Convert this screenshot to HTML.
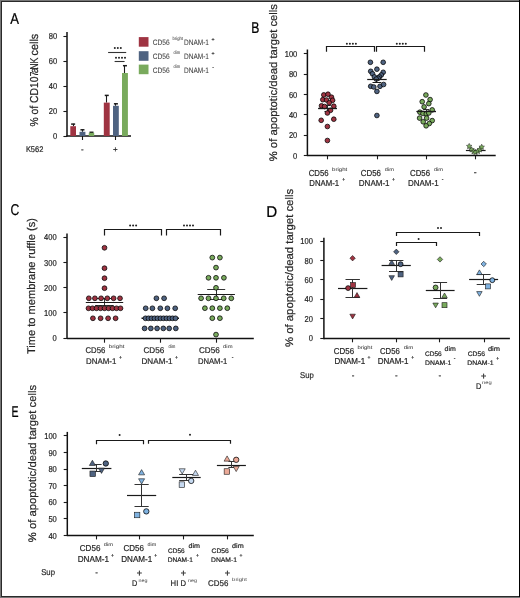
<!DOCTYPE html>
<html><head><meta charset="utf-8"><style>
html,body{margin:0;padding:0;background:#fff;}
body{width:520px;height:598px;overflow:hidden;}
svg{display:block;will-change:transform;text-rendering:geometricPrecision;font-family:"Liberation Sans",sans-serif;}
</style></head><body>
<svg width="520" height="598" viewBox="0 0 520 598">
<rect x="0" y="0" width="520" height="598" fill="#777"/>
<rect x="1" y="1" width="519" height="596" fill="#2a2a2a"/>
<rect x="2" y="2" width="517" height="594" fill="#fff"/>
<rect x="519" y="0" width="1" height="597" fill="#000"/>
<text x="10.37" y="23.6" font-size="15.7" fill="#000" stroke="#000" stroke-width="0.22" text-anchor="start" textLength="8.75" lengthAdjust="spacingAndGlyphs">A</text>
<text transform="translate(38.2,126.6) rotate(-90)" x="0" y="0" font-size="11.5" fill="#262626" stroke="#262626" stroke-width="0.2" textLength="50.2" lengthAdjust="spacingAndGlyphs">% of CD10</text>
<text transform="translate(38.2,76.6) rotate(-90)" x="0" y="0" font-size="11.5" fill="#262626" stroke="#262626" stroke-width="0.2" textLength="5" lengthAdjust="spacingAndGlyphs">7</text>
<text transform="translate(38.2,73.2) rotate(-90)" x="0" y="0" font-size="11.5" fill="#262626" stroke="#262626" stroke-width="0.2" textLength="5.6" lengthAdjust="spacingAndGlyphs">a</text>
<text transform="translate(38.2,69.8) rotate(-90)" x="0" y="0" font-size="11.5" fill="#262626" stroke="#262626" stroke-width="0.2" textLength="12.2" lengthAdjust="spacingAndGlyphs">NK</text>
<text transform="translate(38.2,55.4) rotate(-90)" x="0" y="0" font-size="11.5" fill="#262626" stroke="#262626" stroke-width="0.2" textLength="21.7" lengthAdjust="spacingAndGlyphs">cells</text>
<line x1="67" y1="32" x2="67" y2="136.6" stroke="#111" stroke-width="1.5"/>
<line x1="63.4" y1="136.5" x2="67" y2="136.5" stroke="#1a1a1a" stroke-width="1.1"/>
<text x="57.1" y="139.1" font-size="8.6" fill="#262626" stroke="#262626" stroke-width="0.2" text-anchor="end" textLength="4.21" lengthAdjust="spacingAndGlyphs">0</text>
<line x1="63.4" y1="111.5" x2="67" y2="111.5" stroke="#1a1a1a" stroke-width="1.1"/>
<text x="57.1" y="114.1" font-size="8.6" fill="#262626" stroke="#262626" stroke-width="0.2" text-anchor="end" textLength="8.42" lengthAdjust="spacingAndGlyphs">20</text>
<line x1="63.4" y1="86.5" x2="67" y2="86.5" stroke="#1a1a1a" stroke-width="1.1"/>
<text x="57.1" y="89.1" font-size="8.6" fill="#262626" stroke="#262626" stroke-width="0.2" text-anchor="end" textLength="8.42" lengthAdjust="spacingAndGlyphs">40</text>
<line x1="63.4" y1="61.5" x2="67" y2="61.5" stroke="#1a1a1a" stroke-width="1.1"/>
<text x="57.1" y="64.1" font-size="8.6" fill="#262626" stroke="#262626" stroke-width="0.2" text-anchor="end" textLength="8.42" lengthAdjust="spacingAndGlyphs">60</text>
<line x1="63.4" y1="36.5" x2="67" y2="36.5" stroke="#1a1a1a" stroke-width="1.1"/>
<text x="57.1" y="39.1" font-size="8.6" fill="#262626" stroke="#262626" stroke-width="0.2" text-anchor="end" textLength="8.42" lengthAdjust="spacingAndGlyphs">80</text>
<line x1="66.5" y1="136" x2="131" y2="136" stroke="#111" stroke-width="1.5"/>
<line x1="82.5" y1="136" x2="82.5" y2="140" stroke="#1a1a1a" stroke-width="1.1"/>
<line x1="115.5" y1="136" x2="115.5" y2="140" stroke="#1a1a1a" stroke-width="1.1"/>
<text x="82.4" y="152.2" font-size="8" fill="#262626" stroke="#262626" stroke-width="0.2" text-anchor="middle">-</text>
<text x="115.3" y="152.4" font-size="8" fill="#262626" stroke="#262626" stroke-width="0.2" text-anchor="middle">+</text>
<text x="25.9" y="152.2" font-size="8.2" fill="#262626" stroke="#262626" stroke-width="0.2" text-anchor="start" textLength="17.4" lengthAdjust="spacingAndGlyphs">K562</text>
<line x1="73.5" y1="126.2" x2="73.5" y2="123.8" stroke="#1a1a1a" stroke-width="1.1"/>
<line x1="71.15" y1="124.1" x2="75.15" y2="124.1" stroke="#1a1a1a" stroke-width="1.5"/>
<rect x="70.3" y="126.2" width="5.7" height="9.8" fill="#9f3442"/>
<line x1="82.5" y1="131.8" x2="82.5" y2="129.5" stroke="#1a1a1a" stroke-width="1.1"/>
<line x1="80.45" y1="129.8" x2="84.45" y2="129.8" stroke="#1a1a1a" stroke-width="1.5"/>
<rect x="79.5" y="131.8" width="5.9" height="4.2" fill="#4f6381"/>
<line x1="91.5" y1="132.8" x2="91.5" y2="132" stroke="#1a1a1a" stroke-width="1.1"/>
<line x1="89.5" y1="132.3" x2="93.5" y2="132.3" stroke="#1a1a1a" stroke-width="1.5"/>
<rect x="88.8" y="132.8" width="5.4" height="3.2" fill="#79aa5d"/>
<line x1="106.5" y1="102.6" x2="106.5" y2="95.1" stroke="#1a1a1a" stroke-width="1.1"/>
<line x1="104.75" y1="95.4" x2="108.75" y2="95.4" stroke="#1a1a1a" stroke-width="1.5"/>
<rect x="103.8" y="102.6" width="5.9" height="33.4" fill="#9f3442"/>
<line x1="115.5" y1="105.8" x2="115.5" y2="103.5" stroke="#1a1a1a" stroke-width="1.1"/>
<line x1="113.9" y1="103.8" x2="117.9" y2="103.8" stroke="#1a1a1a" stroke-width="1.5"/>
<rect x="113" y="105.8" width="5.8" height="30.2" fill="#4f6381"/>
<line x1="124.5" y1="73" x2="124.5" y2="65.4" stroke="#1a1a1a" stroke-width="1.1"/>
<line x1="122.95" y1="65.7" x2="126.95" y2="65.7" stroke="#1a1a1a" stroke-width="1.5"/>
<rect x="122" y="73" width="5.9" height="63" fill="#79aa5d"/>
<line x1="108.1" y1="52.5" x2="126.2" y2="52.5" stroke="#333" stroke-width="1.1"/>
<circle cx="114.8" cy="47.9" r="1" fill="#222"/>
<circle cx="117.8" cy="47.9" r="1" fill="#222"/>
<circle cx="120.8" cy="47.9" r="1" fill="#222"/>
<line x1="114.6" y1="61.5" x2="124.6" y2="61.5" stroke="#333" stroke-width="1.1"/>
<circle cx="116" cy="57.7" r="1" fill="#222"/>
<circle cx="119" cy="57.7" r="1" fill="#222"/>
<circle cx="122" cy="57.7" r="1" fill="#222"/>
<circle cx="125" cy="57.7" r="1" fill="#222"/>
<rect x="138.8" y="37.1" width="9.7" height="9.6" fill="#9f3442"/>
<rect x="138.8" y="51.2" width="9.7" height="9.6" fill="#4f6381"/>
<rect x="138.8" y="64.6" width="9.7" height="9.6" fill="#79aa5d"/>
<text x="152.7" y="45.4" font-size="7.8" fill="#3a3a3a" stroke="#3a3a3a" stroke-width="0.05" text-anchor="start" textLength="16.9" lengthAdjust="spacingAndGlyphs">CD56</text>
<text x="172.5" y="40.4" font-size="4.8" fill="#444" stroke="#444" stroke-width="0.05" text-anchor="start" textLength="10.5" lengthAdjust="spacingAndGlyphs">bright</text>
<text x="184" y="45.4" font-size="7.8" fill="#3a3a3a" stroke="#3a3a3a" stroke-width="0.05" text-anchor="start" textLength="25" lengthAdjust="spacingAndGlyphs">DNAM-1</text>
<text x="213" y="41.2" font-size="5.2" fill="#333" stroke="#333" stroke-width="0.2" text-anchor="middle">+</text>
<text x="152.7" y="59.2" font-size="7.8" fill="#3a3a3a" stroke="#3a3a3a" stroke-width="0.05" text-anchor="start" textLength="16.9" lengthAdjust="spacingAndGlyphs">CD56</text>
<text x="173.5" y="54.2" font-size="4.8" fill="#444" stroke="#444" stroke-width="0.05" text-anchor="start" textLength="6.5" lengthAdjust="spacingAndGlyphs">dim</text>
<text x="184" y="59.2" font-size="7.8" fill="#3a3a3a" stroke="#3a3a3a" stroke-width="0.05" text-anchor="start" textLength="25" lengthAdjust="spacingAndGlyphs">DNAM-1</text>
<text x="213" y="55" font-size="5.2" fill="#333" stroke="#333" stroke-width="0.2" text-anchor="middle">+</text>
<text x="152.7" y="73" font-size="7.8" fill="#3a3a3a" stroke="#3a3a3a" stroke-width="0.05" text-anchor="start" textLength="16.9" lengthAdjust="spacingAndGlyphs">CD56</text>
<text x="173.5" y="68" font-size="4.8" fill="#444" stroke="#444" stroke-width="0.05" text-anchor="start" textLength="6.5" lengthAdjust="spacingAndGlyphs">dim</text>
<text x="184" y="73" font-size="7.8" fill="#3a3a3a" stroke="#3a3a3a" stroke-width="0.05" text-anchor="start" textLength="25" lengthAdjust="spacingAndGlyphs">DNAM-1</text>
<text x="213" y="68.8" font-size="5.2" fill="#333" stroke="#333" stroke-width="0.2" text-anchor="middle">-</text>
<text x="251.2" y="32.8" font-size="15.7" fill="#000" stroke="#000" stroke-width="0.22" text-anchor="start" textLength="8.11" lengthAdjust="spacingAndGlyphs">B</text>
<text transform="translate(276.6,161.3) rotate(-90)" x="0" y="0" font-size="11" fill="#262626" stroke="#262626" stroke-width="0.2" textLength="157.3" lengthAdjust="spacingAndGlyphs">% of apoptotic/dead target cells</text>
<line x1="307.4" y1="49.5" x2="307.4" y2="156.1" stroke="#111" stroke-width="1.5"/>
<line x1="303.8" y1="155.5" x2="307.4" y2="155.5" stroke="#1a1a1a" stroke-width="1.1"/>
<text x="297.3" y="158.5" font-size="8.6" fill="#262626" stroke="#262626" stroke-width="0.2" text-anchor="end" textLength="4.21" lengthAdjust="spacingAndGlyphs">0</text>
<line x1="303.8" y1="135.5" x2="307.4" y2="135.5" stroke="#1a1a1a" stroke-width="1.1"/>
<text x="297.3" y="138.2" font-size="8.6" fill="#262626" stroke="#262626" stroke-width="0.2" text-anchor="end" textLength="8.42" lengthAdjust="spacingAndGlyphs">20</text>
<line x1="303.8" y1="114.5" x2="307.4" y2="114.5" stroke="#1a1a1a" stroke-width="1.1"/>
<text x="297.3" y="117.9" font-size="8.6" fill="#262626" stroke="#262626" stroke-width="0.2" text-anchor="end" textLength="8.42" lengthAdjust="spacingAndGlyphs">40</text>
<line x1="303.8" y1="94.5" x2="307.4" y2="94.5" stroke="#1a1a1a" stroke-width="1.1"/>
<text x="297.3" y="97.6" font-size="8.6" fill="#262626" stroke="#262626" stroke-width="0.2" text-anchor="end" textLength="8.42" lengthAdjust="spacingAndGlyphs">60</text>
<line x1="303.8" y1="74.5" x2="307.4" y2="74.5" stroke="#1a1a1a" stroke-width="1.1"/>
<text x="297.3" y="77.3" font-size="8.6" fill="#262626" stroke="#262626" stroke-width="0.2" text-anchor="end" textLength="8.42" lengthAdjust="spacingAndGlyphs">80</text>
<line x1="303.8" y1="53.5" x2="307.4" y2="53.5" stroke="#1a1a1a" stroke-width="1.1"/>
<text x="297.3" y="57" font-size="8.6" fill="#262626" stroke="#262626" stroke-width="0.2" text-anchor="end" textLength="12.62" lengthAdjust="spacingAndGlyphs">100</text>
<line x1="307.2" y1="155.5" x2="495.7" y2="155.5" stroke="#111" stroke-width="1.5"/>
<line x1="327.5" y1="155.5" x2="327.5" y2="159.3" stroke="#1a1a1a" stroke-width="1.1"/>
<line x1="377.5" y1="155.5" x2="377.5" y2="159.3" stroke="#1a1a1a" stroke-width="1.1"/>
<line x1="426.5" y1="155.5" x2="426.5" y2="159.3" stroke="#1a1a1a" stroke-width="1.1"/>
<line x1="475.5" y1="155.5" x2="475.5" y2="159.3" stroke="#1a1a1a" stroke-width="1.1"/>
<path d="M326.5,51.7 V46.5 H374.5 V51.7" fill="none" stroke="#1a1a1a" stroke-width="1.2"/>
<circle cx="346.9" cy="43.7" r="1" fill="#222"/>
<circle cx="349.9" cy="43.7" r="1" fill="#222"/>
<circle cx="352.9" cy="43.7" r="1" fill="#222"/>
<circle cx="355.9" cy="43.7" r="1" fill="#222"/>
<path d="M376.5,51.7 V46.5 H424.5 V51.7" fill="none" stroke="#1a1a1a" stroke-width="1.2"/>
<circle cx="396.8" cy="43.7" r="1" fill="#222"/>
<circle cx="399.8" cy="43.7" r="1" fill="#222"/>
<circle cx="402.8" cy="43.7" r="1" fill="#222"/>
<circle cx="405.8" cy="43.7" r="1" fill="#222"/>
<line x1="318.3" y1="108.5" x2="336.9" y2="108.5" stroke="#1a1a1a" stroke-width="1.2"/>
<line x1="327.5" y1="105.5" x2="327.5" y2="111.5" stroke="#333" stroke-width="1"/>
<line x1="324.4" y1="105.5" x2="330.8" y2="105.5" stroke="#333" stroke-width="1"/>
<line x1="324.4" y1="111.5" x2="330.8" y2="111.5" stroke="#333" stroke-width="1"/>
<circle cx="323.8" cy="94.9" r="2.35" fill="#9f3442" stroke="#000" stroke-width="0.75"/>
<circle cx="328" cy="94.2" r="2.35" fill="#9f3442" stroke="#000" stroke-width="0.75"/>
<circle cx="331.5" cy="97.2" r="2.35" fill="#9f3442" stroke="#000" stroke-width="0.75"/>
<circle cx="322.8" cy="99.7" r="2.35" fill="#9f3442" stroke="#000" stroke-width="0.75"/>
<circle cx="326.5" cy="100" r="2.35" fill="#9f3442" stroke="#000" stroke-width="0.75"/>
<circle cx="332.6" cy="100.3" r="2.35" fill="#9f3442" stroke="#000" stroke-width="0.75"/>
<circle cx="329.2" cy="102.8" r="2.35" fill="#9f3442" stroke="#000" stroke-width="0.75"/>
<circle cx="321.5" cy="105.8" r="2.35" fill="#9f3442" stroke="#000" stroke-width="0.75"/>
<circle cx="324.6" cy="106.5" r="2.35" fill="#9f3442" stroke="#000" stroke-width="0.75"/>
<circle cx="333.8" cy="106.2" r="2.35" fill="#9f3442" stroke="#000" stroke-width="0.75"/>
<circle cx="330.5" cy="110.3" r="2.35" fill="#9f3442" stroke="#000" stroke-width="0.75"/>
<circle cx="327.4" cy="113" r="2.35" fill="#9f3442" stroke="#000" stroke-width="0.75"/>
<circle cx="321.2" cy="120.3" r="2.35" fill="#9f3442" stroke="#000" stroke-width="0.75"/>
<circle cx="333.8" cy="119.2" r="2.35" fill="#9f3442" stroke="#000" stroke-width="0.75"/>
<circle cx="327.4" cy="126.5" r="2.35" fill="#9f3442" stroke="#000" stroke-width="0.75"/>
<circle cx="327.4" cy="140.5" r="2.35" fill="#9f3442" stroke="#000" stroke-width="0.75"/>
<line x1="318.2" y1="108.5" x2="336.9" y2="108.5" stroke="#1a1a1a" stroke-width="1.2"/>
<circle cx="370.4" cy="62.3" r="2.35" fill="#4f6381" stroke="#000" stroke-width="0.75"/>
<circle cx="383.2" cy="62.3" r="2.35" fill="#4f6381" stroke="#000" stroke-width="0.75"/>
<circle cx="376.9" cy="69.2" r="2.35" fill="#4f6381" stroke="#000" stroke-width="0.75"/>
<circle cx="370.7" cy="71.3" r="2.35" fill="#4f6381" stroke="#000" stroke-width="0.75"/>
<circle cx="383.2" cy="72.3" r="2.35" fill="#4f6381" stroke="#000" stroke-width="0.75"/>
<circle cx="372.5" cy="73.8" r="2.35" fill="#4f6381" stroke="#000" stroke-width="0.75"/>
<circle cx="381.3" cy="75" r="2.35" fill="#4f6381" stroke="#000" stroke-width="0.75"/>
<circle cx="374.4" cy="76.9" r="2.35" fill="#4f6381" stroke="#000" stroke-width="0.75"/>
<circle cx="379.4" cy="76.9" r="2.35" fill="#4f6381" stroke="#000" stroke-width="0.75"/>
<circle cx="378.2" cy="78.2" r="2.35" fill="#4f6381" stroke="#000" stroke-width="0.75"/>
<circle cx="376.3" cy="79.1" r="2.35" fill="#4f6381" stroke="#000" stroke-width="0.75"/>
<circle cx="370.7" cy="86.3" r="2.35" fill="#4f6381" stroke="#000" stroke-width="0.75"/>
<circle cx="373.8" cy="87" r="2.35" fill="#4f6381" stroke="#000" stroke-width="0.75"/>
<circle cx="380" cy="86.3" r="2.35" fill="#4f6381" stroke="#000" stroke-width="0.75"/>
<circle cx="383.6" cy="84.5" r="2.35" fill="#4f6381" stroke="#000" stroke-width="0.75"/>
<circle cx="376.9" cy="91.4" r="2.35" fill="#4f6381" stroke="#000" stroke-width="0.75"/>
<circle cx="376.9" cy="115.5" r="2.35" fill="#4f6381" stroke="#000" stroke-width="0.75"/>
<line x1="367.2" y1="79.5" x2="386.7" y2="79.5" stroke="#1a1a1a" stroke-width="1.2"/>
<line x1="372.5" y1="82.5" x2="381.3" y2="82.5" stroke="#1a1a1a" stroke-width="1"/>
<line x1="376.5" y1="79.7" x2="376.5" y2="82.3" stroke="#1a1a1a" stroke-width="1"/>
<line x1="416.5" y1="111.5" x2="435.9" y2="111.5" stroke="#1a1a1a" stroke-width="1.2"/>
<line x1="426.5" y1="109.6" x2="426.5" y2="114" stroke="#333" stroke-width="1"/>
<line x1="423.2" y1="109.5" x2="429.2" y2="109.5" stroke="#333" stroke-width="1"/>
<line x1="423.2" y1="114.5" x2="429.2" y2="114.5" stroke="#333" stroke-width="1"/>
<circle cx="425.9" cy="95" r="2.35" fill="#79aa5d" stroke="#000" stroke-width="0.75"/>
<circle cx="430.1" cy="99.6" r="2.35" fill="#79aa5d" stroke="#000" stroke-width="0.75"/>
<circle cx="422.2" cy="101.7" r="2.35" fill="#79aa5d" stroke="#000" stroke-width="0.75"/>
<circle cx="428.8" cy="103.6" r="2.35" fill="#79aa5d" stroke="#000" stroke-width="0.75"/>
<circle cx="424.1" cy="106.9" r="2.35" fill="#79aa5d" stroke="#000" stroke-width="0.75"/>
<circle cx="432.2" cy="109.9" r="2.35" fill="#79aa5d" stroke="#000" stroke-width="0.75"/>
<circle cx="419.9" cy="112.2" r="2.35" fill="#79aa5d" stroke="#000" stroke-width="0.75"/>
<circle cx="423" cy="113.5" r="2.35" fill="#79aa5d" stroke="#000" stroke-width="0.75"/>
<circle cx="426.3" cy="113.9" r="2.35" fill="#79aa5d" stroke="#000" stroke-width="0.75"/>
<circle cx="428.8" cy="113" r="2.35" fill="#79aa5d" stroke="#000" stroke-width="0.75"/>
<circle cx="419.6" cy="118.1" r="2.35" fill="#79aa5d" stroke="#000" stroke-width="0.75"/>
<circle cx="426.6" cy="118.1" r="2.35" fill="#79aa5d" stroke="#000" stroke-width="0.75"/>
<circle cx="432.2" cy="120.6" r="2.35" fill="#79aa5d" stroke="#000" stroke-width="0.75"/>
<circle cx="423.2" cy="121.8" r="2.35" fill="#79aa5d" stroke="#000" stroke-width="0.75"/>
<circle cx="429.3" cy="123.5" r="2.35" fill="#79aa5d" stroke="#000" stroke-width="0.75"/>
<circle cx="426.1" cy="125.8" r="2.35" fill="#79aa5d" stroke="#000" stroke-width="0.75"/>
<line x1="416.7" y1="111.5" x2="436" y2="111.5" stroke="#1a1a1a" stroke-width="1.2"/>
<line x1="465.9" y1="150.5" x2="485.6" y2="150.5" stroke="#1a1a1a" stroke-width="1.2"/>
<polygon points="469.2,143.4 470.05,145.13 471.96,145.4 470.58,146.75 470.9,148.65 469.2,147.75 467.5,148.65 467.82,146.75 466.44,145.4 468.35,145.13" fill="#79aa5d" stroke="#1a1a1a" stroke-width="0.5"/>
<polygon points="471.6,146.8 472.45,148.53 474.36,148.8 472.98,150.15 473.3,152.05 471.6,151.15 469.9,152.05 470.22,150.15 468.84,148.8 470.75,148.53" fill="#79aa5d" stroke="#1a1a1a" stroke-width="0.5"/>
<polygon points="473.6,148.7 474.45,150.43 476.36,150.7 474.98,152.05 475.3,153.95 473.6,153.05 471.9,153.95 472.22,152.05 470.84,150.7 472.75,150.43" fill="#79aa5d" stroke="#1a1a1a" stroke-width="0.5"/>
<polygon points="475.5,149.4 476.35,151.13 478.26,151.4 476.88,152.75 477.2,154.65 475.5,153.75 473.8,154.65 474.12,152.75 472.74,151.4 474.65,151.13" fill="#79aa5d" stroke="#1a1a1a" stroke-width="0.5"/>
<polygon points="477.9,148.4 478.75,150.13 480.66,150.4 479.28,151.75 479.6,153.65 477.9,152.75 476.2,153.65 476.52,151.75 475.14,150.4 477.05,150.13" fill="#79aa5d" stroke="#1a1a1a" stroke-width="0.5"/>
<polygon points="479.8,146.8 480.65,148.53 482.56,148.8 481.18,150.15 481.5,152.05 479.8,151.15 478.1,152.05 478.42,150.15 477.04,148.8 478.95,148.53" fill="#79aa5d" stroke="#1a1a1a" stroke-width="0.5"/>
<polygon points="481.7,144.2 482.55,145.93 484.46,146.2 483.08,147.55 483.4,149.45 481.7,148.55 480,149.45 480.32,147.55 478.94,146.2 480.85,145.93" fill="#79aa5d" stroke="#1a1a1a" stroke-width="0.5"/>
<text x="308.7" y="175.6" font-size="8.7" fill="#262626" stroke="#262626" stroke-width="0.2" text-anchor="start" textLength="19.9" lengthAdjust="spacingAndGlyphs">CD56</text>
<text x="332.1" y="170.6" font-size="4.9" fill="#3a3a3a" stroke="#3a3a3a" stroke-width="0.05" text-anchor="start" textLength="15.2" lengthAdjust="spacingAndGlyphs">bright</text>
<text x="309.3" y="186.2" font-size="8.7" fill="#262626" stroke="#262626" stroke-width="0.2" text-anchor="start" textLength="29.8" lengthAdjust="spacingAndGlyphs">DNAM-1</text>
<text x="343.8" y="181.2" font-size="5" fill="#262626" stroke="#262626" stroke-width="0.2" text-anchor="middle">+</text>
<text x="360.8" y="175.6" font-size="8.7" fill="#262626" stroke="#262626" stroke-width="0.2" text-anchor="start" textLength="20.2" lengthAdjust="spacingAndGlyphs">CD56</text>
<text x="384.8" y="170.6" font-size="4.9" fill="#3a3a3a" stroke="#3a3a3a" stroke-width="0.05" text-anchor="start" textLength="9" lengthAdjust="spacingAndGlyphs">dim</text>
<text x="358.8" y="186.2" font-size="8.7" fill="#262626" stroke="#262626" stroke-width="0.2" text-anchor="start" textLength="30.8" lengthAdjust="spacingAndGlyphs">DNAM-1</text>
<text x="393.4" y="181.2" font-size="5" fill="#262626" stroke="#262626" stroke-width="0.2" text-anchor="middle">+</text>
<text x="410" y="175.6" font-size="8.7" fill="#262626" stroke="#262626" stroke-width="0.2" text-anchor="start" textLength="20" lengthAdjust="spacingAndGlyphs">CD56</text>
<text x="434" y="170.6" font-size="4.9" fill="#3a3a3a" stroke="#3a3a3a" stroke-width="0.05" text-anchor="start" textLength="9" lengthAdjust="spacingAndGlyphs">dim</text>
<text x="408" y="186.2" font-size="8.7" fill="#262626" stroke="#262626" stroke-width="0.2" text-anchor="start" textLength="30.6" lengthAdjust="spacingAndGlyphs">DNAM-1</text>
<text x="442.5" y="181.2" font-size="5" fill="#262626" stroke="#262626" stroke-width="0.2" text-anchor="middle">-</text>
<text x="475.2" y="175.3" font-size="8.7" fill="#262626" stroke="#262626" stroke-width="0.2" text-anchor="middle">-</text>
<text x="10.58" y="214.5" font-size="15.7" fill="#000" stroke="#000" stroke-width="0.22" text-anchor="start" textLength="8.78" lengthAdjust="spacingAndGlyphs">C</text>
<text transform="translate(35.2,354) rotate(-90)" x="0" y="0" font-size="11.2" fill="#262626" stroke="#262626" stroke-width="0.2" textLength="135.9" lengthAdjust="spacingAndGlyphs">Time to membrane ruffle (s)</text>
<line x1="67" y1="233.4" x2="67" y2="339" stroke="#111" stroke-width="1.5"/>
<line x1="63.4" y1="338.5" x2="67" y2="338.5" stroke="#1a1a1a" stroke-width="1.1"/>
<text x="56.6" y="341.3" font-size="8.6" fill="#262626" stroke="#262626" stroke-width="0.2" text-anchor="end" textLength="4.21" lengthAdjust="spacingAndGlyphs">0</text>
<line x1="63.4" y1="312.5" x2="67" y2="312.5" stroke="#1a1a1a" stroke-width="1.1"/>
<text x="56.6" y="316.05" font-size="8.6" fill="#262626" stroke="#262626" stroke-width="0.2" text-anchor="end" textLength="12.62" lengthAdjust="spacingAndGlyphs">100</text>
<line x1="63.4" y1="287.5" x2="67" y2="287.5" stroke="#1a1a1a" stroke-width="1.1"/>
<text x="56.6" y="290.8" font-size="8.6" fill="#262626" stroke="#262626" stroke-width="0.2" text-anchor="end" textLength="12.62" lengthAdjust="spacingAndGlyphs">200</text>
<line x1="63.4" y1="262.5" x2="67" y2="262.5" stroke="#1a1a1a" stroke-width="1.1"/>
<text x="56.6" y="265.55" font-size="8.6" fill="#262626" stroke="#262626" stroke-width="0.2" text-anchor="end" textLength="12.62" lengthAdjust="spacingAndGlyphs">300</text>
<line x1="63.4" y1="237.5" x2="67" y2="237.5" stroke="#1a1a1a" stroke-width="1.1"/>
<text x="56.6" y="240.3" font-size="8.6" fill="#262626" stroke="#262626" stroke-width="0.2" text-anchor="end" textLength="12.62" lengthAdjust="spacingAndGlyphs">400</text>
<line x1="67" y1="338.4" x2="253.8" y2="338.4" stroke="#111" stroke-width="1.5"/>
<line x1="104.5" y1="338.5" x2="104.5" y2="342.7" stroke="#1a1a1a" stroke-width="1.1"/>
<line x1="160.5" y1="338.5" x2="160.5" y2="342.7" stroke="#1a1a1a" stroke-width="1.1"/>
<line x1="216.5" y1="338.5" x2="216.5" y2="342.7" stroke="#1a1a1a" stroke-width="1.1"/>
<path d="M104.5,235.6 V229.5 H161.5 V235.6" fill="none" stroke="#1a1a1a" stroke-width="1.2"/>
<circle cx="130.1" cy="225.5" r="1" fill="#222"/>
<circle cx="133.1" cy="225.5" r="1" fill="#222"/>
<circle cx="136.1" cy="225.5" r="1" fill="#222"/>
<path d="M166.5,235.6 V229.5 H220.5 V235.6" fill="none" stroke="#1a1a1a" stroke-width="1.2"/>
<circle cx="184" cy="225.5" r="1" fill="#222"/>
<circle cx="187" cy="225.5" r="1" fill="#222"/>
<circle cx="190" cy="225.5" r="1" fill="#222"/>
<circle cx="193" cy="225.5" r="1" fill="#222"/>
<line x1="85.8" y1="302.5" x2="123" y2="302.5" stroke="#1a1a1a" stroke-width="1.2"/>
<line x1="104.5" y1="298.6" x2="104.5" y2="305.6" stroke="#333" stroke-width="1"/>
<line x1="95.1" y1="298.5" x2="113.7" y2="298.5" stroke="#333" stroke-width="1"/>
<line x1="95.1" y1="305.5" x2="113.7" y2="305.5" stroke="#333" stroke-width="1"/>
<circle cx="104.5" cy="247.8" r="2.4" fill="#9f3442" stroke="#000" stroke-width="0.75"/>
<circle cx="104.5" cy="268.2" r="2.4" fill="#9f3442" stroke="#000" stroke-width="0.75"/>
<circle cx="104.5" cy="278.2" r="2.4" fill="#9f3442" stroke="#000" stroke-width="0.75"/>
<circle cx="104.5" cy="288.2" r="2.4" fill="#9f3442" stroke="#000" stroke-width="0.75"/>
<circle cx="88.8" cy="298.3" r="2.4" fill="#9f3442" stroke="#000" stroke-width="0.75"/>
<circle cx="94.9" cy="298.3" r="2.4" fill="#9f3442" stroke="#000" stroke-width="0.75"/>
<circle cx="101.1" cy="298.3" r="2.4" fill="#9f3442" stroke="#000" stroke-width="0.75"/>
<circle cx="107.3" cy="298.3" r="2.4" fill="#9f3442" stroke="#000" stroke-width="0.75"/>
<circle cx="113.6" cy="298.3" r="2.4" fill="#9f3442" stroke="#000" stroke-width="0.75"/>
<circle cx="120" cy="298.3" r="2.4" fill="#9f3442" stroke="#000" stroke-width="0.75"/>
<circle cx="88.5" cy="308.3" r="2.4" fill="#9f3442" stroke="#000" stroke-width="0.75"/>
<circle cx="92.5" cy="308.3" r="2.4" fill="#9f3442" stroke="#000" stroke-width="0.75"/>
<circle cx="96.5" cy="308.3" r="2.4" fill="#9f3442" stroke="#000" stroke-width="0.75"/>
<circle cx="100.5" cy="308.3" r="2.4" fill="#9f3442" stroke="#000" stroke-width="0.75"/>
<circle cx="104.5" cy="308.3" r="2.4" fill="#9f3442" stroke="#000" stroke-width="0.75"/>
<circle cx="108.5" cy="308.3" r="2.4" fill="#9f3442" stroke="#000" stroke-width="0.75"/>
<circle cx="112.5" cy="308.3" r="2.4" fill="#9f3442" stroke="#000" stroke-width="0.75"/>
<circle cx="116.5" cy="308.3" r="2.4" fill="#9f3442" stroke="#000" stroke-width="0.75"/>
<circle cx="120.5" cy="308.3" r="2.4" fill="#9f3442" stroke="#000" stroke-width="0.75"/>
<circle cx="92.9" cy="318.3" r="2.4" fill="#9f3442" stroke="#000" stroke-width="0.75"/>
<circle cx="100.6" cy="318.3" r="2.4" fill="#9f3442" stroke="#000" stroke-width="0.75"/>
<circle cx="108.1" cy="318.3" r="2.4" fill="#9f3442" stroke="#000" stroke-width="0.75"/>
<circle cx="115.6" cy="318.3" r="2.4" fill="#9f3442" stroke="#000" stroke-width="0.75"/>
<line x1="86" y1="302.5" x2="123.2" y2="302.5" stroke="#1a1a1a" stroke-width="1.2"/>
<line x1="141.5" y1="318.3" x2="179" y2="318.3" stroke="#1a1a1a" stroke-width="1.4"/>
<circle cx="156.4" cy="298.3" r="2.4" fill="#4f6381" stroke="#000" stroke-width="0.75"/>
<circle cx="164.1" cy="298.3" r="2.4" fill="#4f6381" stroke="#000" stroke-width="0.75"/>
<circle cx="145.7" cy="308.3" r="2.4" fill="#4f6381" stroke="#000" stroke-width="0.75"/>
<circle cx="152.4" cy="308.3" r="2.4" fill="#4f6381" stroke="#000" stroke-width="0.75"/>
<circle cx="160.3" cy="308.3" r="2.4" fill="#4f6381" stroke="#000" stroke-width="0.75"/>
<circle cx="167.4" cy="308.3" r="2.4" fill="#4f6381" stroke="#000" stroke-width="0.75"/>
<circle cx="175.2" cy="308.3" r="2.4" fill="#4f6381" stroke="#000" stroke-width="0.75"/>
<circle cx="145.5" cy="318.3" r="2.4" fill="#4f6381" stroke="#000" stroke-width="0.75"/>
<circle cx="148.5" cy="318.3" r="2.4" fill="#4f6381" stroke="#000" stroke-width="0.75"/>
<circle cx="151.5" cy="318.3" r="2.4" fill="#4f6381" stroke="#000" stroke-width="0.75"/>
<circle cx="154.5" cy="318.3" r="2.4" fill="#4f6381" stroke="#000" stroke-width="0.75"/>
<circle cx="157.5" cy="318.3" r="2.4" fill="#4f6381" stroke="#000" stroke-width="0.75"/>
<circle cx="160.5" cy="318.3" r="2.4" fill="#4f6381" stroke="#000" stroke-width="0.75"/>
<circle cx="163.5" cy="318.3" r="2.4" fill="#4f6381" stroke="#000" stroke-width="0.75"/>
<circle cx="166.5" cy="318.3" r="2.4" fill="#4f6381" stroke="#000" stroke-width="0.75"/>
<circle cx="169.5" cy="318.3" r="2.4" fill="#4f6381" stroke="#000" stroke-width="0.75"/>
<circle cx="172.5" cy="318.3" r="2.4" fill="#4f6381" stroke="#000" stroke-width="0.75"/>
<circle cx="175.5" cy="318.3" r="2.4" fill="#4f6381" stroke="#000" stroke-width="0.75"/>
<circle cx="144.6" cy="328.4" r="2.4" fill="#4f6381" stroke="#000" stroke-width="0.75"/>
<circle cx="150.8" cy="328.4" r="2.4" fill="#4f6381" stroke="#000" stroke-width="0.75"/>
<circle cx="157.1" cy="328.4" r="2.4" fill="#4f6381" stroke="#000" stroke-width="0.75"/>
<circle cx="163.3" cy="328.4" r="2.4" fill="#4f6381" stroke="#000" stroke-width="0.75"/>
<circle cx="169.2" cy="328.4" r="2.4" fill="#4f6381" stroke="#000" stroke-width="0.75"/>
<circle cx="175.8" cy="328.4" r="2.4" fill="#4f6381" stroke="#000" stroke-width="0.75"/>
<line x1="197.8" y1="294.5" x2="234.6" y2="294.5" stroke="#1a1a1a" stroke-width="1.2"/>
<line x1="216.5" y1="289.7" x2="216.5" y2="299.8" stroke="#333" stroke-width="1"/>
<line x1="207.2" y1="289.5" x2="225.2" y2="289.5" stroke="#333" stroke-width="1"/>
<line x1="207.2" y1="299.5" x2="225.2" y2="299.5" stroke="#333" stroke-width="1"/>
<circle cx="212.3" cy="257.6" r="2.4" fill="#79aa5d" stroke="#000" stroke-width="0.75"/>
<circle cx="219.9" cy="257.6" r="2.4" fill="#79aa5d" stroke="#000" stroke-width="0.75"/>
<circle cx="216" cy="267.6" r="2.4" fill="#79aa5d" stroke="#000" stroke-width="0.75"/>
<circle cx="208.5" cy="277.8" r="2.4" fill="#79aa5d" stroke="#000" stroke-width="0.75"/>
<circle cx="216" cy="277.8" r="2.4" fill="#79aa5d" stroke="#000" stroke-width="0.75"/>
<circle cx="223.9" cy="277.8" r="2.4" fill="#79aa5d" stroke="#000" stroke-width="0.75"/>
<circle cx="216" cy="287.8" r="2.4" fill="#79aa5d" stroke="#000" stroke-width="0.75"/>
<circle cx="201.1" cy="298.3" r="2.4" fill="#79aa5d" stroke="#000" stroke-width="0.75"/>
<circle cx="208.5" cy="298.3" r="2.4" fill="#79aa5d" stroke="#000" stroke-width="0.75"/>
<circle cx="216" cy="298.3" r="2.4" fill="#79aa5d" stroke="#000" stroke-width="0.75"/>
<circle cx="223.7" cy="298.3" r="2.4" fill="#79aa5d" stroke="#000" stroke-width="0.75"/>
<circle cx="231.3" cy="298.3" r="2.4" fill="#79aa5d" stroke="#000" stroke-width="0.75"/>
<circle cx="204.9" cy="308.2" r="2.4" fill="#79aa5d" stroke="#000" stroke-width="0.75"/>
<circle cx="212.3" cy="308.2" r="2.4" fill="#79aa5d" stroke="#000" stroke-width="0.75"/>
<circle cx="219.9" cy="308.2" r="2.4" fill="#79aa5d" stroke="#000" stroke-width="0.75"/>
<circle cx="227.3" cy="308.2" r="2.4" fill="#79aa5d" stroke="#000" stroke-width="0.75"/>
<circle cx="212.3" cy="318.2" r="2.4" fill="#79aa5d" stroke="#000" stroke-width="0.75"/>
<circle cx="219.9" cy="318.2" r="2.4" fill="#79aa5d" stroke="#000" stroke-width="0.75"/>
<circle cx="216" cy="334.6" r="2.4" fill="#79aa5d" stroke="#000" stroke-width="0.75"/>
<line x1="197.9" y1="294.5" x2="234.8" y2="294.5" stroke="#1a1a1a" stroke-width="1.2"/>
<text x="85.5" y="353.3" font-size="8.4" fill="#262626" stroke="#262626" stroke-width="0.2" text-anchor="start" textLength="19.9" lengthAdjust="spacingAndGlyphs">CD56</text>
<text x="108.8" y="348.3" font-size="4.9" fill="#3a3a3a" stroke="#3a3a3a" stroke-width="0.05" text-anchor="start" textLength="15.6" lengthAdjust="spacingAndGlyphs">bright</text>
<text x="86" y="363.7" font-size="8.4" fill="#262626" stroke="#262626" stroke-width="0.2" text-anchor="start" textLength="30.3" lengthAdjust="spacingAndGlyphs">DNAM-1</text>
<text x="120.4" y="358.7" font-size="5" fill="#262626" stroke="#262626" stroke-width="0.2" text-anchor="middle">+</text>
<text x="143.5" y="353.3" font-size="8.4" fill="#262626" stroke="#262626" stroke-width="0.2" text-anchor="start" textLength="20.8" lengthAdjust="spacingAndGlyphs">CD56</text>
<text x="168.5" y="348.3" font-size="4.9" fill="#3a3a3a" stroke="#3a3a3a" stroke-width="0.05" text-anchor="start" textLength="6.9" lengthAdjust="spacingAndGlyphs">dim</text>
<text x="141.5" y="363.7" font-size="8.4" fill="#262626" stroke="#262626" stroke-width="0.2" text-anchor="start" textLength="31.1" lengthAdjust="spacingAndGlyphs">DNAM-1</text>
<text x="176.5" y="358.7" font-size="5" fill="#262626" stroke="#262626" stroke-width="0.2" text-anchor="middle">+</text>
<text x="198.9" y="353.3" font-size="8.4" fill="#262626" stroke="#262626" stroke-width="0.2" text-anchor="start" textLength="20.8" lengthAdjust="spacingAndGlyphs">CD56</text>
<text x="223.1" y="348.3" font-size="4.9" fill="#3a3a3a" stroke="#3a3a3a" stroke-width="0.05" text-anchor="start" textLength="9.4" lengthAdjust="spacingAndGlyphs">dim</text>
<text x="197.9" y="363.7" font-size="8.4" fill="#262626" stroke="#262626" stroke-width="0.2" text-anchor="start" textLength="29.4" lengthAdjust="spacingAndGlyphs">DNAM-1</text>
<text x="232.6" y="358.7" font-size="5" fill="#262626" stroke="#262626" stroke-width="0.2" text-anchor="middle">-</text>
<text x="266.36" y="216.6" font-size="15.7" fill="#000" stroke="#000" stroke-width="0.22" text-anchor="start" textLength="10.98" lengthAdjust="spacingAndGlyphs">D</text>
<text transform="translate(292.6,347) rotate(-90)" x="0" y="0" font-size="11" fill="#262626" stroke="#262626" stroke-width="0.2" textLength="158.1" lengthAdjust="spacingAndGlyphs">% of apoptotic/dead target cells</text>
<line x1="323.9" y1="237.7" x2="323.9" y2="339.2" stroke="#111" stroke-width="1.5"/>
<line x1="320.3" y1="338.5" x2="323.9" y2="338.5" stroke="#1a1a1a" stroke-width="1.1"/>
<text x="312.9" y="341.3" font-size="8.6" fill="#262626" stroke="#262626" stroke-width="0.2" text-anchor="end" textLength="4.21" lengthAdjust="spacingAndGlyphs">0</text>
<line x1="320.3" y1="318.5" x2="323.9" y2="318.5" stroke="#1a1a1a" stroke-width="1.1"/>
<text x="312.9" y="321.88" font-size="8.6" fill="#262626" stroke="#262626" stroke-width="0.2" text-anchor="end" textLength="8.42" lengthAdjust="spacingAndGlyphs">20</text>
<line x1="320.3" y1="299.5" x2="323.9" y2="299.5" stroke="#1a1a1a" stroke-width="1.1"/>
<text x="312.9" y="302.46" font-size="8.6" fill="#262626" stroke="#262626" stroke-width="0.2" text-anchor="end" textLength="8.42" lengthAdjust="spacingAndGlyphs">40</text>
<line x1="320.3" y1="279.5" x2="323.9" y2="279.5" stroke="#1a1a1a" stroke-width="1.1"/>
<text x="312.9" y="283.04" font-size="8.6" fill="#262626" stroke="#262626" stroke-width="0.2" text-anchor="end" textLength="8.42" lengthAdjust="spacingAndGlyphs">60</text>
<line x1="320.3" y1="260.5" x2="323.9" y2="260.5" stroke="#1a1a1a" stroke-width="1.1"/>
<text x="312.9" y="263.62" font-size="8.6" fill="#262626" stroke="#262626" stroke-width="0.2" text-anchor="end" textLength="8.42" lengthAdjust="spacingAndGlyphs">80</text>
<line x1="320.3" y1="241.5" x2="323.9" y2="241.5" stroke="#1a1a1a" stroke-width="1.1"/>
<text x="312.9" y="244.2" font-size="8.6" fill="#262626" stroke="#262626" stroke-width="0.2" text-anchor="end" textLength="12.62" lengthAdjust="spacingAndGlyphs">100</text>
<line x1="323.7" y1="338.6" x2="509.9" y2="338.6" stroke="#111" stroke-width="1.5"/>
<line x1="352.5" y1="338.6" x2="352.5" y2="342.3" stroke="#1a1a1a" stroke-width="1.1"/>
<line x1="396.5" y1="338.6" x2="396.5" y2="342.3" stroke="#1a1a1a" stroke-width="1.1"/>
<line x1="439.5" y1="338.6" x2="439.5" y2="342.3" stroke="#1a1a1a" stroke-width="1.1"/>
<line x1="484.5" y1="338.6" x2="484.5" y2="342.3" stroke="#1a1a1a" stroke-width="1.1"/>
<path d="M396.5,236 V232.5 H479.5 V236" fill="none" stroke="#1a1a1a" stroke-width="1.2"/>
<circle cx="438" cy="227.9" r="1" fill="#222"/>
<circle cx="441" cy="227.9" r="1" fill="#222"/>
<path d="M396.5,246 V242.5 H436.5 V246" fill="none" stroke="#1a1a1a" stroke-width="1.2"/>
<circle cx="418.6" cy="239" r="1" fill="#222"/>
<line x1="338" y1="288.5" x2="367.4" y2="288.5" stroke="#1a1a1a" stroke-width="1.2"/>
<line x1="352.5" y1="279" x2="352.5" y2="297.9" stroke="#333" stroke-width="1"/>
<line x1="345.5" y1="279.5" x2="359.9" y2="279.5" stroke="#333" stroke-width="1"/>
<line x1="345.5" y1="297.5" x2="359.9" y2="297.5" stroke="#333" stroke-width="1"/>
<polygon points="352.6,255.5 355.3,258.2 352.6,260.9 349.9,258.2" fill="#9f3442" stroke="#1a1a1a" stroke-width="0.6"/>
<rect x="350.5" y="282.6" width="5" height="5" fill="#9f3442" stroke="#1a1a1a" stroke-width="0.6"/>
<circle cx="348.1" cy="288.1" r="2.45" fill="#9f3442" stroke="#000" stroke-width="0.75"/>
<polygon points="357,292.57 359.75,297.32 354.25,297.32" fill="#9f3442" stroke="#1a1a1a" stroke-width="0.6"/>
<polygon points="352.6,318.93 355.35,314.18 349.85,314.18" fill="#9f3442" stroke="#1a1a1a" stroke-width="0.6"/>
<line x1="381.6" y1="265.5" x2="410.8" y2="265.5" stroke="#1a1a1a" stroke-width="1.2"/>
<line x1="396.5" y1="260.8" x2="396.5" y2="271.2" stroke="#333" stroke-width="1"/>
<line x1="389" y1="260.5" x2="403.4" y2="260.5" stroke="#333" stroke-width="1"/>
<line x1="389" y1="271.5" x2="403.4" y2="271.5" stroke="#333" stroke-width="1"/>
<polygon points="396.3,249.1 399,251.8 396.3,254.5 393.6,251.8" fill="#4f6381" stroke="#1a1a1a" stroke-width="0.6"/>
<polygon points="391.7,259.88 394.45,264.62 388.95,264.62" fill="#4f6381" stroke="#1a1a1a" stroke-width="0.6"/>
<circle cx="400.6" cy="264.2" r="2.45" fill="#4f6381" stroke="#000" stroke-width="0.75"/>
<rect x="398.1" y="271.9" width="5" height="5" fill="#4f6381" stroke="#1a1a1a" stroke-width="0.6"/>
<polygon points="391.7,280.43 394.45,275.68 388.95,275.68" fill="#4f6381" stroke="#1a1a1a" stroke-width="0.6"/>
<line x1="425.8" y1="290.5" x2="454.6" y2="290.5" stroke="#1a1a1a" stroke-width="1.2"/>
<line x1="440.5" y1="282.1" x2="440.5" y2="298.8" stroke="#333" stroke-width="1"/>
<line x1="433.3" y1="282.5" x2="447.1" y2="282.5" stroke="#333" stroke-width="1"/>
<line x1="433.3" y1="298.5" x2="447.1" y2="298.5" stroke="#333" stroke-width="1"/>
<polygon points="440,256.7 442.7,259.4 440,262.1 437.3,259.4" fill="#79aa5d" stroke="#1a1a1a" stroke-width="0.6"/>
<circle cx="435.6" cy="287.5" r="2.45" fill="#79aa5d" stroke="#000" stroke-width="0.75"/>
<polygon points="444.5,292.98 447.25,297.73 441.75,297.73" fill="#79aa5d" stroke="#1a1a1a" stroke-width="0.6"/>
<polygon points="435.6,307.82 438.35,303.07 432.85,303.07" fill="#79aa5d" stroke="#1a1a1a" stroke-width="0.6"/>
<rect x="442" y="302.7" width="5" height="5" fill="#79aa5d" stroke="#1a1a1a" stroke-width="0.6"/>
<line x1="469.1" y1="279.5" x2="498.1" y2="279.5" stroke="#1a1a1a" stroke-width="1.2"/>
<line x1="483.5" y1="274.4" x2="483.5" y2="284.8" stroke="#333" stroke-width="1"/>
<line x1="476.7" y1="274.5" x2="490.5" y2="274.5" stroke="#333" stroke-width="1"/>
<line x1="476.7" y1="284.5" x2="490.5" y2="284.5" stroke="#333" stroke-width="1"/>
<polygon points="483.7,261.3 486.4,264 483.7,266.7 481,264" fill="#7fb2e0" stroke="#1a1a1a" stroke-width="0.6"/>
<polygon points="479.4,269.88 482.15,274.62 476.65,274.62" fill="#7fb2e0" stroke="#1a1a1a" stroke-width="0.6"/>
<circle cx="492.3" cy="280.2" r="2.45" fill="#7fb2e0" stroke="#000" stroke-width="0.75"/>
<rect x="485.5" y="283.9" width="5" height="5" fill="#7fb2e0" stroke="#1a1a1a" stroke-width="0.6"/>
<polygon points="479.4,296.32 482.15,291.57 476.65,291.57" fill="#7fb2e0" stroke="#1a1a1a" stroke-width="0.6"/>
<text x="333.8" y="353.7" font-size="8.6" fill="#262626" stroke="#262626" stroke-width="0.2" text-anchor="start" textLength="20.4" lengthAdjust="spacingAndGlyphs">CD56</text>
<text x="357.5" y="348.7" font-size="4.9" fill="#3a3a3a" stroke="#3a3a3a" stroke-width="0.05" text-anchor="start" textLength="14.8" lengthAdjust="spacingAndGlyphs">bright</text>
<text x="334.4" y="364.4" font-size="8.6" fill="#262626" stroke="#262626" stroke-width="0.2" text-anchor="start" textLength="30.8" lengthAdjust="spacingAndGlyphs">DNAM-1</text>
<text x="369" y="359.4" font-size="5" fill="#262626" stroke="#262626" stroke-width="0.2" text-anchor="middle">+</text>
<text x="380" y="353.7" font-size="8.6" fill="#262626" stroke="#262626" stroke-width="0.2" text-anchor="start" textLength="19.8" lengthAdjust="spacingAndGlyphs">CD56</text>
<text x="403.7" y="348.7" font-size="4.9" fill="#3a3a3a" stroke="#3a3a3a" stroke-width="0.05" text-anchor="start" textLength="9.6" lengthAdjust="spacingAndGlyphs">dim</text>
<text x="377.7" y="364.4" font-size="8.6" fill="#262626" stroke="#262626" stroke-width="0.2" text-anchor="start" textLength="30.8" lengthAdjust="spacingAndGlyphs">DNAM-1</text>
<text x="412.7" y="359.4" font-size="5" fill="#262626" stroke="#262626" stroke-width="0.2" text-anchor="middle">+</text>
<text x="425" y="355.8" font-size="6.6" fill="#262626" stroke="#262626" stroke-width="0.2" text-anchor="start" textLength="16.7" lengthAdjust="spacingAndGlyphs">CD56</text>
<text x="444.6" y="350.6" font-size="6.6" fill="#262626" stroke="#262626" stroke-width="0.2" text-anchor="start" textLength="11.2" lengthAdjust="spacingAndGlyphs">dim</text>
<text x="425" y="364.8" font-size="6.6" fill="#262626" stroke="#262626" stroke-width="0.2" text-anchor="start" textLength="26.3" lengthAdjust="spacingAndGlyphs">DNAM-1</text>
<text x="454.5" y="359.8" font-size="5" fill="#262626" stroke="#262626" stroke-width="0.2" text-anchor="middle">-</text>
<text x="467.7" y="355.8" font-size="6.6" fill="#262626" stroke="#262626" stroke-width="0.2" text-anchor="start" textLength="17.3" lengthAdjust="spacingAndGlyphs">CD56</text>
<text x="487.9" y="350.6" font-size="6.6" fill="#262626" stroke="#262626" stroke-width="0.2" text-anchor="start" textLength="12.1" lengthAdjust="spacingAndGlyphs">dim</text>
<text x="467.3" y="364.8" font-size="6.6" fill="#262626" stroke="#262626" stroke-width="0.2" text-anchor="start" textLength="26.4" lengthAdjust="spacingAndGlyphs">DNAM-1</text>
<text x="497.8" y="359.8" font-size="5" fill="#262626" stroke="#262626" stroke-width="0.2" text-anchor="middle">+</text>
<text x="300" y="378.1" font-size="8.4" fill="#262626" stroke="#262626" stroke-width="0.2" text-anchor="start" textLength="13.8" lengthAdjust="spacingAndGlyphs">Sup</text>
<text x="353" y="377.5" font-size="8" fill="#262626" stroke="#262626" stroke-width="0.2" text-anchor="middle">-</text>
<text x="396.3" y="377.5" font-size="8" fill="#262626" stroke="#262626" stroke-width="0.2" text-anchor="middle">-</text>
<text x="439.8" y="377.5" font-size="8" fill="#262626" stroke="#262626" stroke-width="0.2" text-anchor="middle">-</text>
<text x="483.6" y="378.9" font-size="9" fill="#262626" stroke="#262626" stroke-width="0.35" text-anchor="middle">+</text>
<text x="476.1" y="388.8" font-size="8.4" fill="#262626" stroke="#262626" stroke-width="0.2" text-anchor="start" textLength="5.4" lengthAdjust="spacingAndGlyphs">D</text>
<text x="482" y="384" font-size="4.6" fill="#444" stroke="#444" stroke-width="0" text-anchor="start" textLength="9.7" lengthAdjust="spacingAndGlyphs">neg</text>
<text x="11.54" y="417.1" font-size="15.7" fill="#000" stroke="#000" stroke-width="0.22" text-anchor="start" textLength="7.04" lengthAdjust="spacingAndGlyphs">E</text>
<text transform="translate(36.2,542.2) rotate(-90)" x="0" y="0" font-size="11" fill="#262626" stroke="#262626" stroke-width="0.2" textLength="157.3" lengthAdjust="spacingAndGlyphs">% of apoptotic/dead target cells</text>
<line x1="67.3" y1="431.9" x2="67.3" y2="536.1" stroke="#111" stroke-width="1.5"/>
<line x1="63.7" y1="535.5" x2="67.3" y2="535.5" stroke="#1a1a1a" stroke-width="1.1"/>
<text x="56.8" y="538.5" font-size="8.6" fill="#262626" stroke="#262626" stroke-width="0.2" text-anchor="end" textLength="8.42" lengthAdjust="spacingAndGlyphs">40</text>
<line x1="63.7" y1="518.5" x2="67.3" y2="518.5" stroke="#1a1a1a" stroke-width="1.1"/>
<text x="56.8" y="521.9" font-size="8.6" fill="#262626" stroke="#262626" stroke-width="0.2" text-anchor="end" textLength="8.42" lengthAdjust="spacingAndGlyphs">50</text>
<line x1="63.7" y1="502.5" x2="67.3" y2="502.5" stroke="#1a1a1a" stroke-width="1.1"/>
<text x="56.8" y="505.3" font-size="8.6" fill="#262626" stroke="#262626" stroke-width="0.2" text-anchor="end" textLength="8.42" lengthAdjust="spacingAndGlyphs">60</text>
<line x1="63.7" y1="485.5" x2="67.3" y2="485.5" stroke="#1a1a1a" stroke-width="1.1"/>
<text x="56.8" y="488.7" font-size="8.6" fill="#262626" stroke="#262626" stroke-width="0.2" text-anchor="end" textLength="8.42" lengthAdjust="spacingAndGlyphs">70</text>
<line x1="63.7" y1="469.5" x2="67.3" y2="469.5" stroke="#1a1a1a" stroke-width="1.1"/>
<text x="56.8" y="472.1" font-size="8.6" fill="#262626" stroke="#262626" stroke-width="0.2" text-anchor="end" textLength="8.42" lengthAdjust="spacingAndGlyphs">80</text>
<line x1="63.7" y1="452.5" x2="67.3" y2="452.5" stroke="#1a1a1a" stroke-width="1.1"/>
<text x="56.8" y="455.5" font-size="8.6" fill="#262626" stroke="#262626" stroke-width="0.2" text-anchor="end" textLength="8.42" lengthAdjust="spacingAndGlyphs">90</text>
<line x1="63.7" y1="435.5" x2="67.3" y2="435.5" stroke="#1a1a1a" stroke-width="1.1"/>
<text x="56.8" y="438.9" font-size="8.6" fill="#262626" stroke="#262626" stroke-width="0.2" text-anchor="end" textLength="12.62" lengthAdjust="spacingAndGlyphs">100</text>
<line x1="67.2" y1="535.5" x2="253.8" y2="535.5" stroke="#111" stroke-width="1.5"/>
<line x1="96.5" y1="535.6" x2="96.5" y2="539.4" stroke="#1a1a1a" stroke-width="1.1"/>
<line x1="139.5" y1="535.6" x2="139.5" y2="539.4" stroke="#1a1a1a" stroke-width="1.1"/>
<line x1="183.5" y1="535.6" x2="183.5" y2="539.4" stroke="#1a1a1a" stroke-width="1.1"/>
<line x1="227.5" y1="535.6" x2="227.5" y2="539.4" stroke="#1a1a1a" stroke-width="1.1"/>
<path d="M96.5,444.2 V440.5 H143.5 V444.2" fill="none" stroke="#1a1a1a" stroke-width="1.2"/>
<circle cx="119.6" cy="434.9" r="1" fill="#222"/>
<path d="M148.5,443.8 V440.5 H230.5 V443.8" fill="none" stroke="#1a1a1a" stroke-width="1.2"/>
<circle cx="190" cy="434.8" r="1" fill="#222"/>
<line x1="81.8" y1="468.5" x2="111.4" y2="468.5" stroke="#1a1a1a" stroke-width="1.2"/>
<line x1="96.5" y1="464.9" x2="96.5" y2="471.5" stroke="#333" stroke-width="1"/>
<line x1="91.6" y1="464.5" x2="101.6" y2="464.5" stroke="#333" stroke-width="1"/>
<line x1="91.6" y1="471.5" x2="101.6" y2="471.5" stroke="#333" stroke-width="1"/>
<polygon points="92.4,460.21 95.43,465.44 89.38,465.44" fill="#4f6381" stroke="#1a1a1a" stroke-width="0.6"/>
<circle cx="105.8" cy="463.5" r="2.69" fill="#4f6381" stroke="#000" stroke-width="0.75"/>
<polygon points="101.5,473.39 104.53,468.16 98.47,468.16" fill="#4f6381" stroke="#1a1a1a" stroke-width="0.6"/>
<rect x="89.95" y="471.05" width="5.5" height="5.5" fill="#4f6381" stroke="#1a1a1a" stroke-width="0.6"/>
<line x1="127" y1="495.5" x2="156.2" y2="495.5" stroke="#1a1a1a" stroke-width="1.2"/>
<line x1="141.5" y1="484.4" x2="141.5" y2="506" stroke="#333" stroke-width="1"/>
<line x1="134.5" y1="484.5" x2="148.7" y2="484.5" stroke="#333" stroke-width="1"/>
<line x1="134.5" y1="506.5" x2="148.7" y2="506.5" stroke="#333" stroke-width="1"/>
<polygon points="141.6,469.61 144.62,474.84 138.57,474.84" fill="#7fb2e0" stroke="#1a1a1a" stroke-width="0.6"/>
<polygon points="141.6,483.99 144.62,478.76 138.57,478.76" fill="#7fb2e0" stroke="#1a1a1a" stroke-width="0.6"/>
<circle cx="146.3" cy="511.4" r="2.69" fill="#7fb2e0" stroke="#000" stroke-width="0.75"/>
<rect x="134.35" y="512.25" width="5.5" height="5.5" fill="#7fb2e0" stroke="#1a1a1a" stroke-width="0.6"/>
<line x1="172.3" y1="477.5" x2="200.7" y2="477.5" stroke="#1a1a1a" stroke-width="1.2"/>
<line x1="186.5" y1="474.4" x2="186.5" y2="480.5" stroke="#333" stroke-width="1"/>
<line x1="179.2" y1="474.5" x2="193.8" y2="474.5" stroke="#333" stroke-width="1"/>
<line x1="179.2" y1="480.5" x2="193.8" y2="480.5" stroke="#333" stroke-width="1"/>
<polygon points="182.2,473.99 185.22,468.76 179.17,468.76" fill="#c6d9f0" stroke="#1a1a1a" stroke-width="0.6"/>
<polygon points="195.5,470.21 198.53,475.44 192.47,475.44" fill="#c6d9f0" stroke="#1a1a1a" stroke-width="0.6"/>
<circle cx="191.2" cy="480.9" r="2.69" fill="#c6d9f0" stroke="#000" stroke-width="0.75"/>
<rect x="179.15" y="481.85" width="5.5" height="5.5" fill="#c6d9f0" stroke="#1a1a1a" stroke-width="0.6"/>
<line x1="216.9" y1="465.5" x2="245.9" y2="465.5" stroke="#1a1a1a" stroke-width="1.2"/>
<line x1="231.5" y1="461.2" x2="231.5" y2="467.7" stroke="#333" stroke-width="1"/>
<line x1="228.4" y1="461.5" x2="234.4" y2="461.5" stroke="#333" stroke-width="1"/>
<line x1="228.4" y1="467.5" x2="234.4" y2="467.5" stroke="#333" stroke-width="1"/>
<polygon points="227.1,455.91 230.12,461.14 224.07,461.14" fill="#eba997" stroke="#1a1a1a" stroke-width="0.6"/>
<circle cx="236.2" cy="459.8" r="2.69" fill="#eba997" stroke="#000" stroke-width="0.75"/>
<polygon points="236.2,471.59 239.22,466.36 233.17,466.36" fill="#eba997" stroke="#1a1a1a" stroke-width="0.6"/>
<rect x="224.15" y="468.75" width="5.5" height="5.5" fill="#eba997" stroke="#1a1a1a" stroke-width="0.6"/>
<text x="79.8" y="551" font-size="8.6" fill="#262626" stroke="#262626" stroke-width="0.2" text-anchor="start" textLength="20.6" lengthAdjust="spacingAndGlyphs">CD56</text>
<text x="103.8" y="546" font-size="4.9" fill="#3a3a3a" stroke="#3a3a3a" stroke-width="0.05" text-anchor="start" textLength="9.1" lengthAdjust="spacingAndGlyphs">dim</text>
<text x="77.7" y="561.9" font-size="8.6" fill="#262626" stroke="#262626" stroke-width="0.2" text-anchor="start" textLength="31.3" lengthAdjust="spacingAndGlyphs">DNAM-1</text>
<text x="112.4" y="556.9" font-size="5" fill="#262626" stroke="#262626" stroke-width="0.2" text-anchor="middle">+</text>
<text x="123.5" y="551" font-size="8.6" fill="#262626" stroke="#262626" stroke-width="0.2" text-anchor="start" textLength="20.5" lengthAdjust="spacingAndGlyphs">CD56</text>
<text x="147.5" y="546" font-size="4.9" fill="#3a3a3a" stroke="#3a3a3a" stroke-width="0.05" text-anchor="start" textLength="8.7" lengthAdjust="spacingAndGlyphs">dim</text>
<text x="121.2" y="561.9" font-size="8.6" fill="#262626" stroke="#262626" stroke-width="0.2" text-anchor="start" textLength="31.1" lengthAdjust="spacingAndGlyphs">DNAM-1</text>
<text x="155.8" y="556.9" font-size="5" fill="#262626" stroke="#262626" stroke-width="0.2" text-anchor="middle">+</text>
<text x="168.1" y="552.9" font-size="6.6" fill="#262626" stroke="#262626" stroke-width="0.2" text-anchor="start" textLength="16.5" lengthAdjust="spacingAndGlyphs">CD56</text>
<text x="188.5" y="547.7" font-size="6.6" fill="#262626" stroke="#262626" stroke-width="0.2" text-anchor="start" textLength="11.5" lengthAdjust="spacingAndGlyphs">dim</text>
<text x="167.7" y="561.9" font-size="6.6" fill="#262626" stroke="#262626" stroke-width="0.2" text-anchor="start" textLength="25.3" lengthAdjust="spacingAndGlyphs">DNAM-1</text>
<text x="197.5" y="556.9" font-size="5" fill="#262626" stroke="#262626" stroke-width="0.2" text-anchor="middle">+</text>
<text x="211.5" y="552.9" font-size="6.6" fill="#262626" stroke="#262626" stroke-width="0.2" text-anchor="start" textLength="17.3" lengthAdjust="spacingAndGlyphs">CD56</text>
<text x="232.1" y="547.7" font-size="6.6" fill="#262626" stroke="#262626" stroke-width="0.2" text-anchor="start" textLength="11.6" lengthAdjust="spacingAndGlyphs">dim</text>
<text x="211" y="561.9" font-size="6.6" fill="#262626" stroke="#262626" stroke-width="0.2" text-anchor="start" textLength="26" lengthAdjust="spacingAndGlyphs">DNAM-1</text>
<text x="241" y="556.9" font-size="5" fill="#262626" stroke="#262626" stroke-width="0.2" text-anchor="middle">+</text>
<text x="41.2" y="575" font-size="8.4" fill="#262626" stroke="#262626" stroke-width="0.2" text-anchor="start" textLength="13.8" lengthAdjust="spacingAndGlyphs">Sup</text>
<text x="96.5" y="574.5" font-size="8" fill="#262626" stroke="#262626" stroke-width="0.2" text-anchor="middle">-</text>
<text x="139.4" y="575.7" font-size="9" fill="#262626" stroke="#262626" stroke-width="0.35" text-anchor="middle">+</text>
<text x="183.5" y="575.7" font-size="9" fill="#262626" stroke="#262626" stroke-width="0.35" text-anchor="middle">+</text>
<text x="227.3" y="575.7" font-size="9" fill="#262626" stroke="#262626" stroke-width="0.35" text-anchor="middle">+</text>
<text x="132" y="585.6" font-size="8.4" fill="#262626" stroke="#262626" stroke-width="0.2" text-anchor="start" textLength="5.3" lengthAdjust="spacingAndGlyphs">D</text>
<text x="138.5" y="581.7" font-size="4.6" fill="#444" stroke="#444" stroke-width="0" text-anchor="start" textLength="9" lengthAdjust="spacingAndGlyphs">neg</text>
<text x="170.6" y="585.6" font-size="8.4" fill="#262626" stroke="#262626" stroke-width="0.2" text-anchor="start" textLength="15.4" lengthAdjust="spacingAndGlyphs">HI D</text>
<text x="187.9" y="581.7" font-size="4.6" fill="#444" stroke="#444" stroke-width="0" text-anchor="start" textLength="9" lengthAdjust="spacingAndGlyphs">neg</text>
<text x="208" y="585.6" font-size="8.4" fill="#262626" stroke="#262626" stroke-width="0.2" text-anchor="start" textLength="20.3" lengthAdjust="spacingAndGlyphs">CD56</text>
<text x="232.1" y="581" font-size="4.6" fill="#444" stroke="#444" stroke-width="0" text-anchor="start" textLength="14.8" lengthAdjust="spacingAndGlyphs">bright</text>
</svg>
</body></html>
